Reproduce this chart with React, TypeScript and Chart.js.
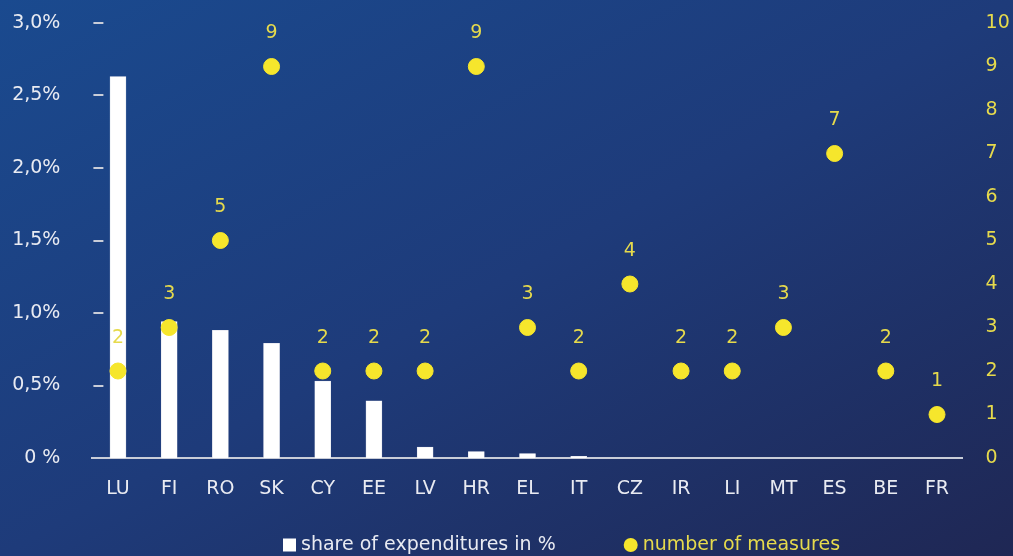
import React, { useEffect, useRef } from "react";
import { Chart, registerables } from "chart.js";

Chart.register(...registerables);

const categories = ["LU", "FI", "RO", "SK", "CY", "EE", "LV", "HR", "EL", "IT", "CZ", "IR", "LI", "MT", "ES", "BE", "FR"];
const shareOfExpenditures = [2.63, 0.94, 0.88, 0.79, 0.53, 0.395, 0.075, 0.045, 0.03, 0.012, 0, 0, 0, 0, 0, 0, 0];
const numberOfMeasures = [2, 3, 5, 9, 2, 2, 2, 9, 3, 2, 4, 2, 2, 3, 7, 2, 1];
const leftTickLabels = ["0 %", "0,5%", "1,0%", "1,5%", "2,0%", "2,5%", "3,0%"];
const rightTickLabels = ["0", "1", "2", "3", "4", "5", "6", "7", "8", "9", "10"];
const seriesNames = ["share of expenditures in %", "number of measures"];

const FONT = "'DejaVu Sans', sans-serif";
const WHITE = "#e9ebf2";
const YELLOW = "#f6e62c";
const YELLOW_TEXT = "#e6da4c";

export default function App() {
  const ref = useRef<HTMLCanvasElement | null>(null);

  useEffect(() => {
    document.body.style.margin = "0";
    const canvas = ref.current;
    if (!canvas) return;

    const pointLabels = {
      id: "pointLabels",
      afterDatasetsDraw(chart: any) {
        const ctx = chart.ctx;
        const meta = chart.getDatasetMeta(1);
        ctx.save();
        ctx.font = `19px ${FONT}`;
        ctx.fillStyle = YELLOW_TEXT;
        ctx.textAlign = "center";
        ctx.textBaseline = "middle";
        meta.data.forEach((el: any, i: number) => {
          ctx.fillText(String(numberOfMeasures[i]), el.x, el.y - 33);
        });
        ctx.restore();
      },
    };

    const leftDashes = {
      id: "leftDashes",
      afterDraw(chart: any) {
        const ctx = chart.ctx;
        const y = chart.scales.y;
        const left = chart.chartArea.left;
        ctx.save();
        ctx.strokeStyle = "#c9cdd8";
        ctx.lineWidth = 2;
        y.ticks.forEach((t: any) => {
          if (t.value === 0) return;
          const py = Math.round(y.getPixelForValue(t.value));
          ctx.beginPath();
          ctx.moveTo(left + 1, py);
          ctx.lineTo(left + 11, py);
          ctx.stroke();
        });
        ctx.restore();
      },
    };

    const customLegend = {
      id: "customLegend",
      afterDraw(chart: any) {
        const ctx = chart.ctx;
        const cy = chart.height - 11;
        ctx.save();
        ctx.font = `19px ${FONT}`;
        ctx.textBaseline = "middle";
        ctx.textAlign = "left";
        let x = 283;
        ctx.fillStyle = "#ffffff";
        ctx.fillRect(x, cy - 6.5, 13, 13);
        x += 18;
        ctx.fillStyle = WHITE;
        ctx.fillText(seriesNames[0], x, cy);
        x += ctx.measureText(seriesNames[0]).width + 68;
        ctx.fillStyle = YELLOW;
        ctx.beginPath();
        ctx.arc(x + 7, cy, 7, 0, Math.PI * 2);
        ctx.fill();
        x += 19;
        ctx.fillStyle = YELLOW_TEXT;
        ctx.fillText(seriesNames[1], x, cy);
        ctx.restore();
      },
    };

    const fixPadding = (s: any, w: number) => {
      s.width = w;
      s.paddingTop = 10;
      s.paddingBottom = 10;
    };

    const chart = new Chart(canvas, {
      data: {
        labels: categories,
        datasets: [
          {
            type: "bar",
            label: seriesNames[0],
            data: shareOfExpenditures,
            backgroundColor: "#ffffff",
            borderColor: "#d8dbe6",
            borderWidth: 0.5,
            barThickness: 16,
            yAxisID: "y",
            order: 2,
          } as any,
          {
            type: "scatter",
            label: seriesNames[1],
            data: numberOfMeasures,
            backgroundColor: YELLOW,
            borderColor: YELLOW,
            pointRadius: 8,
            pointHoverRadius: 8,
            showLine: false,
            yAxisID: "y1",
            order: 1,
          } as any,
        ],
      },
      options: {
        animation: false,
        responsive: false,
        maintainAspectRatio: false,
        layout: { padding: { top: 23, bottom: 46, left: 0, right: 0 } },
        plugins: {
          tooltip: { enabled: false },
          legend: { display: false },
        },
        scales: {
          x: {
            type: "category",
            offset: true,
            grid: { display: false, drawTicks: false },
            border: { display: true, color: "#c9cdd8", width: 2 },
            ticks: { color: WHITE, font: { family: FONT, size: 19 }, padding: 20 },
            afterFit: (s: any) => { s.height = 52; },
          },
          y: {
            position: "left",
            min: 0,
            max: 3,
            grid: { display: false, drawTicks: false },
            border: { display: false },
            ticks: {
              stepSize: 0.5,
              color: WHITE,
              font: { family: FONT, size: 19 },
              padding: 32,
              callback: (_v: any, i: number) => leftTickLabels[i],
            },
            afterFit: (s: any) => fixPadding(s, 92.4),
          },
          y1: {
            position: "right",
            min: 0,
            max: 10,
            grid: { display: false, drawTicks: false },
            border: { display: false },
            ticks: {
              stepSize: 1,
              color: YELLOW_TEXT,
              font: { family: FONT, size: 19 },
              padding: 23,
              callback: (_v: any, i: number) => rightTickLabels[i],
            },
            afterFit: (s: any) => fixPadding(s, 50.4),
          },
        },
      },
      plugins: [pointLabels, leftDashes, customLegend],
    } as any);

    return () => chart.destroy();
  }, []);

  return (
    <div
      style={{
        width: 1013,
        height: 556,
        background: "linear-gradient(to bottom right, #1a4a8f 0%, #1e3b7a 50%, #1f2754 100%)",
      }}
    >
      <canvas ref={ref} width={1013} height={556} style={{ display: "block" }} />
    </div>
  );
}
